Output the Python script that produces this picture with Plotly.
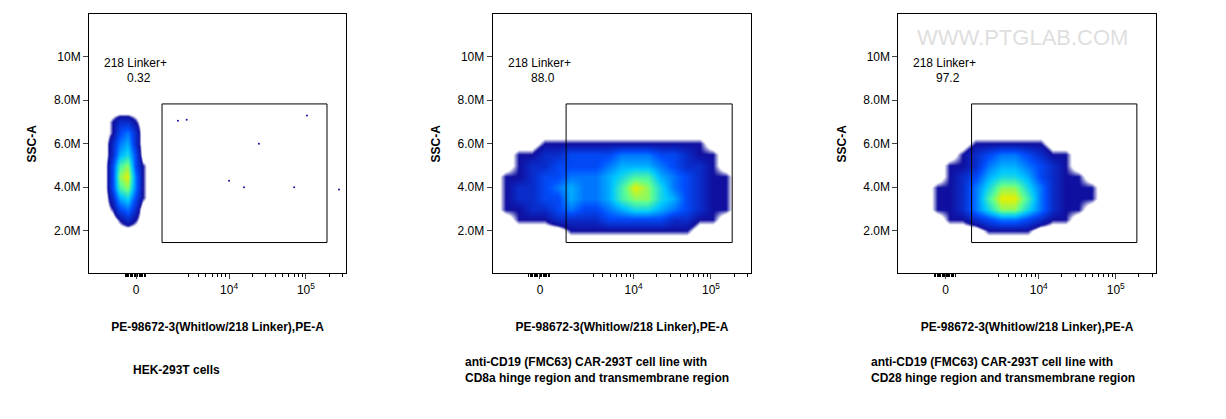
import plotly.graph_objects as go
import numpy as np

# x in display units (biexponential axis mapped to 0..100), y in millions
x_tick_vals = [18.3, 54.5, 84.4]
x_tick_text = ["0", "10<sup>4</sup>", "10<sup>5</sup>"]
y_tick_vals = [2, 4, 6, 8, 10]
y_tick_text = ["2.0M", "4.0M", "6.0M", "8.0M", "10M"]

rows = [2.0, 2.5, 3.0, 3.5, 4.0, 4.5, 5.0, 5.5, 6.0, 6.5, 7.0, 7.5]
p1_cols = [6, 9, 12, 15, 18, 21, 24]
p1_z = [
    [0, 0, 0, 0, 0, 0, 0],
    [0, 0, 1, 2, 1, 0, 0],
    [0, 1, 3, 4, 2, 0, 0],
    [0, 2, 5, 6, 3, 1, 0],
    [0, 3, 7, 8, 4, 1, 0],
    [0, 3, 8, 9, 4, 1, 0],
    [0, 3, 7, 8, 3, 1, 0],
    [0, 2, 5, 6, 3, 0, 0],
    [0, 2, 4, 5, 2, 0, 0],
    [0, 1, 3, 4, 2, 0, 0],
    [0, 1, 2, 2, 1, 0, 0],
    [0, 0, 0, 0, 0, 0, 0],
]
p1_out_x = [34.6, 38.0, 54.5, 60.3, 66.1, 79.8, 84.8, 97.3]
p1_out_y = [7.06, 7.1, 4.3, 4.0, 6.0, 4.0, 7.3, 3.9]

rows23 = [1.5, 2.0, 2.5, 3.0, 3.5, 4.0, 4.5, 5.0, 5.5, 6.0, 6.5]
cols23 = [0, 5, 10, 15, 20, 25, 30, 35, 40, 45, 50, 55, 60, 65, 70, 75, 80, 85, 90, 95, 100]
p2_z = [
    [0,0,0,0,0,0,0,0,0,0,0,0,0,0,0,0,0,0,0,0,0],
    [0,0,0,0,0,0,1,1,1,1,1,1,1,1,1,1,0,0,0,0,0],
    [0,0,1,1,1,2,2,2,2,3,3,3,3,3,2,2,1,1,0,0,0],
    [0,1,1,2,2,3,4,3,3,4,5,6,6,5,4,3,2,1,1,0,0],
    [0,1,2,2,3,3,5,4,4,5,7,8,8,6,5,3,2,1,1,0,0],
    [0,1,2,2,3,4,5,4,4,5,7,9,8,6,4,3,2,1,1,0,0],
    [0,1,1,2,3,3,4,4,4,5,6,7,7,5,4,3,2,1,1,0,0],
    [0,0,1,2,2,3,3,3,3,4,5,5,5,4,3,2,2,1,0,0,0],
    [0,0,1,1,2,2,3,3,3,3,4,4,4,3,3,2,1,1,0,0,0],
    [0,0,0,0,1,1,1,1,1,1,1,1,1,1,1,1,1,0,0,0,0],
    [0,0,0,0,0,0,0,0,0,0,0,0,0,0,0,0,0,0,0,0,0],
]
p3_z = [
    [0,0,0,0,0,0,0,0,0,0,0,0,0,0,0,0,0,0,0,0,0],
    [0,0,0,0,0,0,0,1,1,1,1,0,0,0,0,0,0,0,0,0,0],
    [0,0,0,0,1,1,2,3,4,4,3,2,1,1,0,0,0,0,0,0,0],
    [0,0,0,1,1,2,4,6,8,8,6,4,2,1,1,0,0,0,0,0,0],
    [0,0,0,1,1,2,4,7,9,9,7,4,2,1,1,1,0,0,0,0,0],
    [0,0,0,1,1,2,4,6,8,8,6,4,2,1,1,1,0,0,0,0,0],
    [0,0,0,0,1,2,3,5,6,6,5,3,2,1,1,0,0,0,0,0,0],
    [0,0,0,0,1,1,2,4,5,5,4,3,2,1,0,0,0,0,0,0,0],
    [0,0,0,0,0,1,2,3,4,4,3,2,1,1,0,0,0,0,0,0,0],
    [0,0,0,0,0,0,1,1,1,1,1,1,0,0,0,0,0,0,0,0,0],
    [0,0,0,0,0,0,0,0,0,0,0,0,0,0,0,0,0,0,0,0,0],
]
gate_x = [28.4, 92.6]
gate_y = [1.46, 7.83]
gate_pct = ["0.32", "88.0", "97.2"]
captions = ["HEK-293T cells",
            "anti-CD19 (FMC63) CAR-293T cell line with<br>CD8a hinge region and transmembrane region",
            "anti-CD19 (FMC63) CAR-293T cell line with<br>CD28 hinge region and transmembrane region"]

cs = [[0, "white"], [0.05, "white"], [0.09, "#1010a0"], [0.3, "#0050ff"], [0.5, "#00c8ff"],
      [0.68, "#60ff90"], [0.82, "#e8f000"], [0.93, "#ff6000"], [1, "#c00000"]]

fig = go.Figure()
doms = [(0.0661, 0.2757), (0.3953, 0.6063), (0.7263, 0.9363)]
ydom = (0.367, 0.985)
data = [(p1_cols, rows, p1_z), (cols23, rows23, p2_z), (cols23, rows23, p3_z)]
font = dict(family="Liberation Sans, Arial", size=12, color="black")
caption_x = [0.100, 0.371, 0.702]

minor_vals = [14 + 0.5 * i for i in range(17)] + [54.5 + 29.9 * np.log10(k) for k in range(2, 10)] + \
             [54.5 - 29.9 * (1 - np.log10(k)) for k in range(3, 10)] + [84.4 + 29.9 * np.log10(k) for k in range(2, 5)]

for i, (cx, cy, z) in enumerate(data):
    ax = "" if i == 0 else str(i + 1)
    fig.add_trace(go.Heatmap(x=cx, y=cy, z=z, zmin=0, zmax=11, zsmooth="best", colorscale=cs,
                             showscale=False, xaxis="x" + ax, yaxis="y" + ax, hoverinfo="skip"))
    fig.layout["xaxis" + ax] = dict(domain=doms[i], range=[0, 100], anchor="y" + ax, automargin=False,
                                    tickvals=x_tick_vals, ticktext=x_tick_text, ticks="outside", ticklen=5,
                                    showgrid=False, zeroline=False, showline=True, mirror=True,
                                    linecolor="black", linewidth=1, tickfont=font,
                                    minor=dict(tickvals=minor_vals, ticks="outside", ticklen=3, tickcolor="black"),
                                    title=dict(text="<b>PE-98672-3(Whitlow/218 Linker),PE-A</b>", font=font, standoff=26))
    fig.layout["yaxis" + ax] = dict(domain=ydom, range=[0.05, 11.95], anchor="x" + ax, automargin=False,
                                    tickvals=y_tick_vals, ticktext=y_tick_text, ticks="outside", ticklen=5,
                                    showgrid=False, zeroline=False, showline=True, mirror=True,
                                    linecolor="black", linewidth=1, tickfont=font,
                                    title=dict(text="<b>SSC-A</b>", font=font, standoff=14))
    fig.add_shape(type="rect", xref="x" + ax, yref="y" + ax, x0=gate_x[0], x1=gate_x[1],
                  y0=gate_y[0], y1=gate_y[1], line=dict(color="black", width=1))
    fig.add_annotation(xref="x" + ax, yref="y" + ax, x=5, y=9.7, text="218 Linker+", showarrow=False,
                       xanchor="left", font=font)
    fig.add_annotation(xref="x" + ax, yref="y" + ax, x=14, y=9.0, text=gate_pct[i], showarrow=False,
                       xanchor="left", font=font)
    fig.add_annotation(xref="paper", yref="paper", x=caption_x[i],
                       y=0.135, text="<b>" + captions[i] + "</b>", showarrow=False, xanchor="left",
                       yanchor="middle", align="left", font=font)

fig.add_trace(go.Scatter(x=p1_out_x, y=p1_out_y, mode="markers", marker=dict(size=2, color="#1010a0"),
                         xaxis="x", yaxis="y", hoverinfo="skip"))
fig.add_annotation(xref="paper", yref="paper", x=0.915, y=0.965, text="WWW.PTGLAB.COM", showarrow=False,
                   font=dict(family="Liberation Sans", size=22, color="rgba(190,190,190,0.5)"))

fig.update_layout(width=1226, height=419, margin=dict(l=0, r=0, t=0, b=0), showlegend=False,
                  plot_bgcolor="white", paper_bgcolor="white")
fig.write_html("out.html")
